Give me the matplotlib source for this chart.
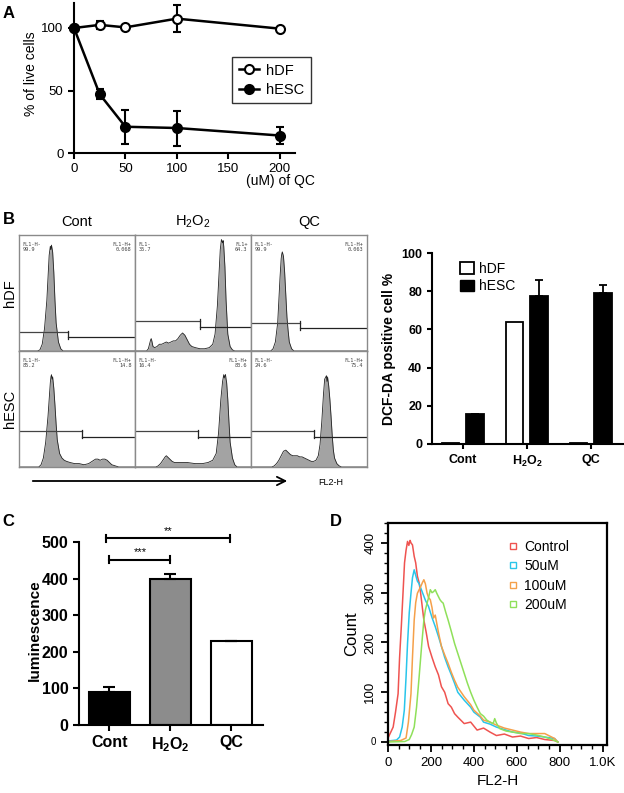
import matplotlib
matplotlib.use("Agg")
import matplotlib.pyplot as plt
from matplotlib.lines import Line2D
from matplotlib.patches import Patch

plt.rcParams['font.family'] = ['Liberation Sans', 'DejaVu Sans']
plt.rcParams['mathtext.fontset'] = 'custom'
plt.rcParams['mathtext.rm'] = 'Liberation Sans'
plt.rcParams['mathtext.bf'] = 'Liberation Sans:bold'

W, H = 624, 793

# ---- panel A: viability vs QC dose
doseQC = [0, 25, 50, 100, 200]
hdfLive = [100, 102.5, 100.5, 107.5, 99.5]
hdfLiveErr = [0, 3, 0.5, 11, 0.5]
hescLive = [100, 47, 21, 20, 14]
hescLiveErr = [0, 4, 13.5, 14, 7]

# ---- panel B: flow histograms (x = % of panel width, y = % of panel height)
flowCols = ['Cont', 'H$_\\mathregular{2}$O$_\\mathregular{2}$', 'QC']
flowRows = ['hDF', 'hESC']
hdfContX = [0, 16, 18, 20, 22, 24, 25, 26, 27, 27.5, 28, 29, 30, 31, 32, 34, 36, 38, 40, 100]
hdfContY = [0, 0, 1, 6, 20, 45, 65, 85, 93, 90, 94, 88, 70, 45, 25, 8, 2, 0, 0, 0]
hdfH2o2X = [0, 10, 11.5, 12.5, 13.5, 14, 14.5, 15.5, 17, 19, 21, 23, 25, 27, 29, 31, 33, 35, 37, 39, 41, 43,
            45, 47, 49, 52, 56, 60, 64, 67, 69, 71, 72.5, 73.5, 74.5, 75.5, 76, 76.5, 77.5, 78.5, 80, 82, 84,
            86, 90, 100]
hdfH2o2Y = [0, 0, 2, 6, 10, 11, 9, 4, 3, 4, 6, 6, 7, 8, 7, 8, 9, 9, 11, 14, 16, 14,
            10, 6, 4, 3, 2, 2, 3, 6, 15, 40, 70, 90, 99, 96, 98, 93, 75, 45, 15, 4, 1,
            0, 0, 0]
hdfQcX = [0, 17, 19, 21, 23, 24, 25, 26, 26.5, 27, 27.5, 28, 29, 30, 31, 32, 33, 35, 37, 39, 100]
hdfQcY = [0, 0, 2, 8, 25, 45, 65, 82, 86, 88, 86, 84, 70, 50, 30, 18, 8, 2, 0, 0, 0]
hescContX = [0, 17, 19, 21, 23, 25, 26, 27, 27.5, 28, 28.5, 29, 30, 31, 32, 33, 35, 37, 39, 41, 44, 48, 52,
             56, 60, 63, 66, 68, 70, 72, 74, 76, 78, 80, 83, 86, 100]
hescContY = [0, 0, 2, 8, 22, 45, 60, 75, 80, 82, 78, 80, 70, 55, 38, 24, 12, 8, 6, 5, 4, 3, 3,
             2, 3, 5, 7, 7, 6, 7, 7, 6, 4, 2, 1, 0, 0]
hescH2o2X = [0, 18, 20, 22, 24, 26, 27, 28, 30, 32, 34, 38, 45, 52, 58, 63, 67, 70, 72, 74, 75.5, 76.5, 77,
             77.5, 78, 78.5, 79, 80, 81, 82, 84, 86, 88, 100]
hescH2o2Y = [0, 0, 1, 3, 6, 9, 10, 9, 7, 5, 4, 4, 4, 3, 3, 4, 6, 12, 30, 60, 76, 82, 79,
             81, 82, 78, 75, 60, 40, 22, 8, 2, 0, 0]
hescQcX = [0, 18, 20, 22, 24, 26, 28, 30, 32, 34, 36, 38, 40, 42, 44, 46, 48, 50, 52, 54, 56, 58, 59.5, 61,
           62.5, 63.5, 64.5, 65, 65.5, 66, 67, 68, 69, 70, 71, 72, 74, 76, 78, 100]
hescQcY = [0, 0, 1, 3, 6, 10, 14, 15, 13, 11, 10, 10, 10, 9, 9, 8, 7, 6, 5, 5, 6, 10, 20, 40,
           65, 78, 80, 81, 76, 80, 72, 60, 45, 28, 15, 8, 3, 1, 0, 0]
flowX = [[hdfContX, hdfH2o2X, hdfQcX], [hescContX, hescH2o2X, hescQcX]]
flowY = [[hdfContY, hdfH2o2Y, hdfQcY], [hescContY, hescH2o2Y, hescQcY]]
# gates: left level, right level, split position
flowGates = [[(17, 12, 42), (27, 21, 56), (25, 20, 42.5)],
             [(32, 27, 54), (32, 27, 54), (32, 27, 54)]]
flowNeg = [[('FL1-H-', '99.9'), ('FL1-', '35.7'), ('FL1-H-', '99.9')],
           [('FL1-H-', '85.2'), ('FL1-H-', '16.4'), ('FL1-H-', '24.6')]]
flowPos = [[('FL1-H+', '0.068'), ('FL1+', '64.3'), ('FL1-H+', '0.063')],
           [('FL1-H+', '14.8'), ('FL1-H+', '83.6'), ('FL1-H+', '75.4')]]

# ---- panel B: DCF-DA positive bars
dcfGroups = ['Cont', 'H$_\\mathbf{2}$O$_\\mathbf{2}$', 'QC']
dcfHdf = [0.3, 64, 0.3]
dcfHesc = [15.5, 77.5, 79]
dcfHescErr = [0.4, 8.5, 4.5]

# ---- panel C: luminescence
lumGroups = ['Cont', 'H$_\\mathbf{2}$O$_\\mathbf{2}$', 'QC']
lumValues = [91, 400, 230]
lumErr = [12, 13, 0]
lumColors = ['black', '#8c8c8c', 'white']

# ---- panel D: FL2-H histograms
ctrlX = [0, 24, 35, 47, 54, 62, 70, 77, 84, 91, 97, 103, 107, 114, 122, 129, 137, 145, 152, 160, 167, 178,
         189, 205, 220, 235, 249, 264, 280, 295, 310, 325, 355, 385, 415, 445, 475, 505, 542, 580, 617, 655,
         692, 730, 776, 791]
ctrlY = [8, 30, 60, 97, 170, 232, 300, 360, 385, 403, 395, 405, 400, 396, 373, 360, 333, 320, 299, 270, 245,
         220, 192, 170, 151, 135, 111, 100, 77, 70, 57, 50, 37, 40, 24, 28, 20, 13, 16, 10, 12, 7, 9,
         5, 3, 0]
c50X = [0, 40, 54, 66, 76, 84, 91, 99, 107, 114, 122, 129, 137, 145, 159, 174, 189, 205, 220, 235, 249, 264,
        280, 295, 310, 325, 355, 385, 400, 430, 445, 475, 505, 542, 580, 617, 655, 692, 730, 776, 791]
c50Y = [2, 4, 10, 30, 64, 130, 198, 260, 299, 330, 346, 335, 323, 318, 302, 285, 272, 250, 232, 212, 192, 170,
        151, 135, 118, 100, 84, 70, 60, 50, 40, 36, 30, 25, 20, 18, 13, 12, 10, 7, 0]
c100X = [0, 59, 84, 95, 107, 114, 122, 129, 137, 145, 152, 160, 167, 174, 182, 189, 197, 205, 212, 220, 235,
         249, 264, 280, 295, 310, 325, 355, 385, 400, 430, 445, 475, 505, 542, 580, 617, 655, 692, 730, 776, 791]
c100Y = [1, 3, 8, 40, 97, 170, 245, 280, 299, 306, 312, 320, 326, 318, 299, 290, 286, 270, 249, 255, 220,
         192, 175, 158, 140, 124, 110, 91, 75, 64, 52, 44, 40, 34, 28, 24, 20, 17, 17, 17, 7, 0]
c200X = [0, 78, 99, 110, 122, 133, 145, 156, 167, 174, 182, 189, 197, 205, 212, 220, 227, 235, 242, 249, 257,
         268, 280, 295, 310, 325, 340, 355, 370, 385, 400, 415, 430, 445, 460, 475, 490, 497, 505, 520,
         550, 580, 617, 655, 692, 730, 776, 791]
c200Y = [0, 1, 5, 15, 30, 70, 131, 190, 245, 265, 279, 290, 306, 300, 302, 306, 299, 292, 286, 282, 279,
         262, 245, 222, 198, 178, 158, 138, 118, 100, 84, 70, 57, 52, 44, 40, 37, 47, 38, 27,
         22, 20, 17, 17, 14, 10, 3, 0]
histLabels = ['Control', '50uM', '100uM', '200uM']
histColors = ['#ef5350', '#29c5ea', '#f5a04a', '#8fe05a']


def pxBox(left, top, right, bottom):
    return [left / W, 1 - bottom / H, (right - left) / W, (bottom - top) / H]


def figText(fig, x, y, s, **kw):
    fig.text(x / W, 1 - y / H, s, **kw)


def boxSpines(ax, lw=1.5, sides=('left', 'bottom')):
    for name, sp in ax.spines.items():
        if name in sides:
            sp.set_linewidth(lw)
        else:
            sp.set_visible(False)


fig = plt.figure(figsize=(W / 100, H / 100), dpi=100)

# ===== panel A
axA = fig.add_axes(pxBox(74, 3, 295, 153))
axA.errorbar(doseQC, hdfLive, yerr=hdfLiveErr, color='black', lw=1.8, marker='o', ms=6.5, mfc='white',
             mew=1.5, capsize=3, elinewidth=1.5, capthick=1.5, clip_on=False, zorder=3)
axA.errorbar(doseQC, hescLive, yerr=hescLiveErr, color='black', lw=1.8, marker='o', ms=6.5, mfc='black',
             mew=1.5, capsize=3, elinewidth=1.5, capthick=1.5, clip_on=False, zorder=3)
axA.set_xlim(0, 215)
axA.set_ylim(0, 120)
axA.set_xticks([0, 50, 100, 150, 200])
axA.set_yticks([0, 50, 100])
boxSpines(axA)
axA.tick_params(labelsize=9.5, width=1.5, length=4)
axA.set_ylabel('% of live cells', fontsize=10, labelpad=2)
axA.yaxis.set_label_coords(-0.165, 0.53)
figText(fig, 280, 181, '(uM) of QC', fontsize=10, ha='center', va='center')
legA = axA.legend(handles=[Line2D([], [], color='black', lw=1.8, marker='o', ms=6.5, mfc='white', mew=1.5,
                                  label='hDF'),
                           Line2D([], [], color='black', lw=1.8, marker='o', ms=6.5, mfc='black', mew=1.5,
                                  label='hESC')],
                  loc='upper left', bbox_to_anchor=((232 - 74) / 221, (153 - 57) / 150), fontsize=10.5,
                  frameon=True, fancybox=False, edgecolor='black', handlelength=1.4, borderpad=0.45,
                  labelspacing=0.35, handletextpad=0.5, borderaxespad=0)
legA.get_frame().set_linewidth(1.0)

# ===== panel B: flow panels
colEdges = [19, 135, 251, 367]
rowEdges = [235, 351, 467]
for r in range(2):
    for c in range(3):
        ax = fig.add_axes(pxBox(colEdges[c], rowEdges[r], colEdges[c + 1], rowEdges[r + 1]))
        ax.fill_between(flowX[r][c], flowY[r][c], color='#a3a3a3', lw=0)
        ax.plot(flowX[r][c], flowY[r][c], color='#222222', lw=0.6)
        leftLvl, rightLvl, split = flowGates[r][c]
        ax.plot([0, split], [leftLvl, leftLvl], color='#444444', lw=0.9)
        ax.plot([split, 100], [rightLvl, rightLvl], color='#222222', lw=0.9)
        ax.plot([split, split], [leftLvl + 1.2, rightLvl - 1.2], color='#222222', lw=0.9)
        ax.text(3, 97, flowNeg[r][c][0] + '\n' + flowNeg[r][c][1], fontsize=3.8, va='top', ha='left',
                family='DejaVu Sans Mono', color='#444444', linespacing=1.1)
        ax.text(97, 97, flowPos[r][c][0] + '\n' + flowPos[r][c][1], fontsize=3.8, va='top', ha='right',
                family='DejaVu Sans Mono', color='#444444', linespacing=1.1, multialignment='right')
        ax.set_xlim(0, 100)
        ax.set_ylim(0, 103)
        ax.set_xticks([])
        ax.set_yticks([])
        for sp in ax.spines.values():
            sp.set_color('#8a8a8a')
            sp.set_linewidth(1.0)
        if r == 0:
            figText(fig, (colEdges[c] + colEdges[c + 1]) / 2, 222, flowCols[c], fontsize=10.5,
                    ha='center', va='center')
    figText(fig, 10, (rowEdges[r] + rowEdges[r + 1]) / 2, flowRows[r], fontsize=10.5, rotation=90,
            ha='center', va='center')

fig.add_artist(matplotlib.patches.FancyArrowPatch((30 / W, 1 - 481 / H), (290 / W, 1 - 481 / H),
                                                  transform=fig.transFigure, arrowstyle='->,head_length=6,head_width=3',
                                                  lw=1.3, color='black'))
figText(fig, 331, 482, 'FL2-H', fontsize=6.5, ha='center', va='center')

# ===== panel B: bars
axB = fig.add_axes(pxBox(432, 253, 623, 444))
pos = range(len(dcfGroups))
axB.bar([p - 0.19 for p in pos], dcfHdf, width=0.27, color='white', edgecolor='black', lw=1.3, label='hDF')
axB.bar([p + 0.19 for p in pos], dcfHesc, width=0.27, color='black', edgecolor='black', lw=1.3, label='hESC',
        yerr=[[0] * 3, dcfHescErr], error_kw=dict(ecolor='black', elinewidth=1.3, capsize=3, capthick=1.3))
axB.set_xlim(-0.48, 2.5)
axB.set_ylim(0, 100)
axB.set_yticks([0, 20, 40, 60, 80, 100])
axB.set_xticks(list(pos))
axB.set_xticklabels(dcfGroups)
boxSpines(axB)
axB.tick_params(labelsize=9, width=1.5, length=3.5)
for t in axB.get_xticklabels() + axB.get_yticklabels():
    t.set_fontweight('bold')
axB.set_ylabel('DCF-DA positive cell %', fontsize=10, fontweight='bold')
axB.yaxis.set_label_coords(-0.19, 0.5)
axB.legend(handles=[Patch(facecolor='white', edgecolor='black', lw=1.3, label='hDF'),
                    Patch(facecolor='black', edgecolor='black', label='hESC')],
           loc='upper left', bbox_to_anchor=(0.08, 1.02), frameon=False, fontsize=10, handlelength=1.0,
           handleheight=0.9, handletextpad=0.4, labelspacing=0.25)

# ===== panel C
axC = fig.add_axes(pxBox(79, 542, 263, 725))
axC.bar(range(3), lumValues, width=0.68, color=lumColors, edgecolor='black', lw=1.5,
        yerr=[[0] * 3, lumErr], error_kw=dict(ecolor='black', elinewidth=1.5, capsize=4, capthick=1.5))
axC.set_xlim(-0.5, 2.52)
axC.set_ylim(0, 500)
axC.set_yticks([0, 100, 200, 300, 400, 500])
axC.set_xticks(range(3))
axC.set_xticklabels(lumGroups)
boxSpines(axC)
axC.tick_params(labelsize=11.5, width=1.5, length=4)
for t in axC.get_xticklabels() + axC.get_yticklabels():
    t.set_fontweight('bold')
axC.set_ylabel('luminescence', fontsize=11, fontweight='bold')
axC.yaxis.set_label_coords(-0.2, 0.52)
# significance brackets
for (x0, x1, yb, stars) in [(0.0, 1.0, 452, '***'), (-0.05, 1.98, 510, '**')]:
    axC.plot([x0, x1], [yb, yb], color='black', lw=1.5, clip_on=False)
    axC.plot([x0, x0], [yb - 9, yb + 9], color='black', lw=1.5, clip_on=False)
    axC.plot([x1, x1], [yb - 9, yb + 9], color='black', lw=1.5, clip_on=False)
    axC.text((x0 + x1) / 2, yb + 6, stars, ha='center', va='bottom', fontsize=8)

# ===== panel D
axD = fig.add_axes(pxBox(388, 523, 607, 745))
for xs, ys, col in [(ctrlX, ctrlY, histColors[0]), (c50X, c50Y, histColors[1]),
                    (c100X, c100Y, histColors[2]), (c200X, c200Y, histColors[3])]:
    axD.plot(xs, ys, color=col, lw=1.1)
axD.set_xlim(0, 1020)
axD.set_ylim(-6, 440)
axD.set_xticks([0, 200, 400, 600, 800, 1000])
axD.set_xticklabels(['0', '200', '400', '600', '800', '1.0K'])
axD.set_xticks(range(0, 1001, 50), minor=True)
axD.set_yticks([0, 100, 200, 300, 400])
axD.set_yticks(range(0, 441, 20), minor=True)
axD.tick_params(which='major', labelsize=9.5, width=1.3, length=5)
axD.tick_params(which='minor', width=1.0, length=3)
for t in axD.get_yticklabels():
    t.set_rotation(90)
    t.set_va('center')
axD.get_yticklabels()[0].set_fontsize(7)
axD.get_yticklabels()[0].set_rotation(0)
for sp in axD.spines.values():
    sp.set_linewidth(1.6)
axD.set_xlabel('FL2-H', fontsize=11, labelpad=4)
axD.set_ylabel('Count', fontsize=12, labelpad=4)
axD.legend(handles=[Line2D([], [], ls='none', marker='s', ms=5, mfc='none', mec=c, mew=1.0, label=l)
                    for c, l in zip(histColors, histLabels)],
           loc='upper left', bbox_to_anchor=(0.52, 0.95), frameon=False, fontsize=10, handlelength=0.8,
           handletextpad=0.4, labelspacing=0.4, borderaxespad=0)

# panel letters
for letter, x, y in [('A', 9, 13), ('B', 9, 219), ('C', 8, 522), ('D', 336, 522)]:
    figText(fig, x, y, letter, fontsize=12, fontweight='bold', ha='center', va='center')

fig.savefig('out.png', dpi=100)
